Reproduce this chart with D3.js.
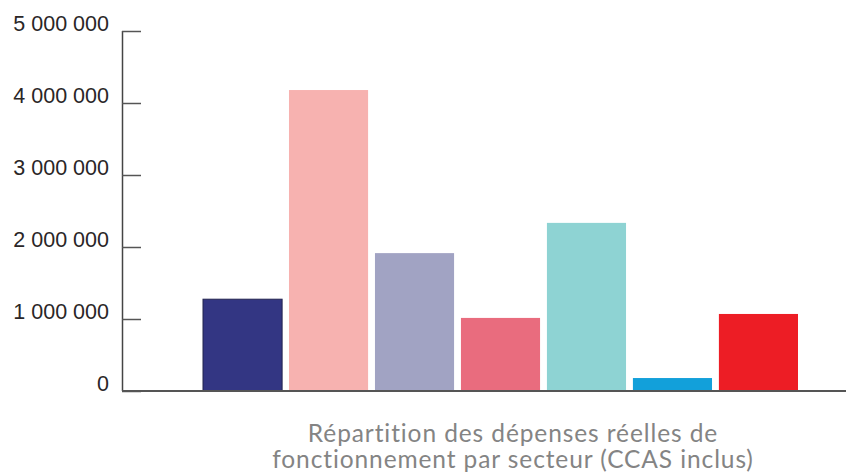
<!DOCTYPE html>
<html>
<head>
<meta charset="utf-8">
<script src="https://cdn.jsdelivr.net/npm/d3@7"></script>
<style>
  html, body { margin: 0; padding: 0; background: #ffffff; }
  svg { display: block; }
</style>
</head>
<body>
<svg id="chart" width="846" height="474"></svg>
<script>
const categories = ["Secteur 1", "Secteur 2", "Secteur 3", "Secteur 4", "Secteur 5", "Secteur 6", "Secteur 7"];
const values = [1275000, 4180000, 1915000, 1015000, 2335000, 180000, 1070000];
const colors = ["#333683", "#f7b2b0", "#a1a3c3", "#e96c7e", "#8ed3d3", "#12a0da", "#ed1d25"];
const tickValues = [0, 1000000, 2000000, 3000000, 4000000, 5000000];
const tickLabels = ["0", "1 000 000", "2 000 000", "3 000 000", "4 000 000", "5 000 000"];
const captionLines = ["Répartition des dépenses réelles de", "fonctionnement par secteur (CCAS inclus)"];

const svg = d3.select("#chart");

const y = d3.scaleLinear().domain([0, 5000000]).range([391, 31]);
const x = d3.scaleBand().domain(categories).range([203, 798]).paddingInner(0.08).paddingOuter(0);

// bars
svg.append("g").selectAll("rect")
  .data(values)
  .join("rect")
  .attr("x", (d, i) => x(categories[i]))
  .attr("width", x.bandwidth())
  .attr("y", d => y(d))
  .attr("height", d => y(0) - y(d))
  .attr("fill", (d, i) => colors[i])
  .attr("stroke", (d, i) => i === 0 ? "#23244f" : "none")
  .attr("stroke-width", 1);

// y axis
const axis = d3.axisRight(y)
  .tickValues(tickValues)
  .tickSize(19)
  .tickFormat("");
const gAxis = svg.append("g").attr("transform", "translate(122,0)").call(axis);
gAxis.select(".domain").attr("stroke", "#444").attr("stroke-width", 1.5).attr("d", `M0.5,${y(5000000)}V${y(0)}`);
gAxis.selectAll(".tick line").attr("stroke", "#555").attr("stroke-width", 1.5);

// tick labels (baseline on the tick)
svg.append("g").selectAll("text")
  .data(tickValues)
  .join("text")
  .attr("x", 109)
  .attr("y", d => y(d))
  .attr("text-anchor", "end")
  .attr("font-family", "'Liberation Sans', Arial, sans-serif")
  .attr("font-size", 21.5)
  .attr("fill", "#2a2627")
  .text((d, i) => tickLabels[i]);

// baseline
svg.append("line")
  .attr("x1", 122).attr("x2", 846)
  .attr("y1", y(0)).attr("y2", y(0))
  .attr("stroke", "#555").attr("stroke-width", 2);

// caption
svg.append("g").selectAll("text")
  .data(captionLines)
  .join("text")
  .attr("x", 513)
  .attr("y", (d, i) => 442 + i * 25.5)
  .attr("text-anchor", "middle")
  .attr("font-family", "Lato, sans-serif")
  .attr("font-size", 24.5)
  .attr("letter-spacing", 0.9)
  .attr("fill", "#848484")
  .text(d => d);
</script>
</body>
</html>
